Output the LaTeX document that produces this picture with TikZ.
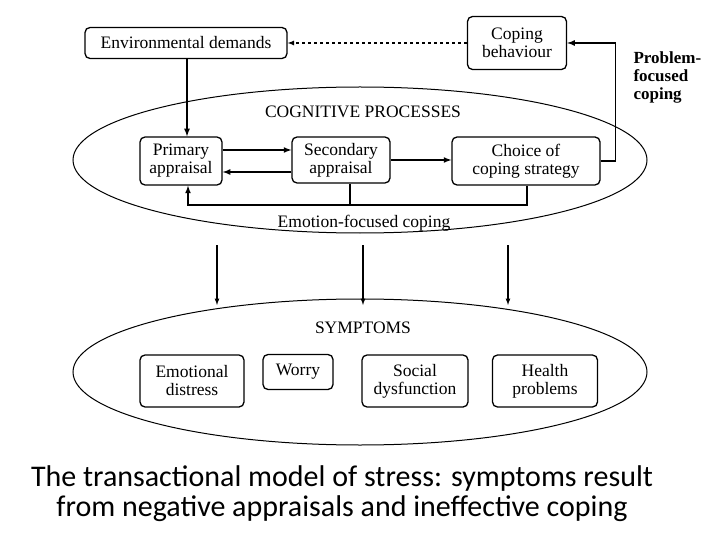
\documentclass[tikz,border=0pt]{standalone}
\usepackage{fontspec}
\setmainfont{Liberation Serif}
\newfontfamily\capfont{Carlito}
\begin{document}
\begin{tikzpicture}[x=1pt,y=-1pt,
 box/.style={draw,line width=1.3pt,rounded corners=5pt,align=center,font=\fontsize{17.5}{18}\selectfont,inner sep=0pt},
 arr/.style={line width=1.6pt,-latex},
 lbl/.style={font=\bfseries\fontsize{17}{18}\selectfont,align=left}]
\useasboundingbox (0,0) rectangle (720,540);
\node[box,minimum width=202,minimum height=31] (env) at (186,43) {Environmental demands};
\node[box,minimum width=99,minimum height=53] (cop) at (517,43) {Coping\\behaviour};
\node[lbl,anchor=north west] (pfc) at (630,48) {Problem-\\focused\\coping};
\draw[line width=1pt] (360,160) ellipse [x radius=287, y radius=73];
\node[font=\fontsize{17.5}{18}\selectfont] (cp) at (363,112) {COGNITIVE PROCESSES};
\node[box,minimum width=82,minimum height=48] (pri) at (181,161) {Primary\\appraisal};
\node[box,minimum width=98,minimum height=46] (sec) at (341,160) {Secondary\\appraisal};
\node[box,minimum width=148,minimum height=48] (cho) at (526,161) {Choice of\\coping strategy};
\draw[arr,dashed,line width=1.2pt] (cop.west) -- (env.east);
\draw[arr] (cho.east) -- ++(15,0) coordinate (c1) |- (cop.east);
\draw[arr] (env.south -| 187,0) -- (pri.north -| 187,0);
\draw[arr] (pri.east |- 0,150) -- (sec.west |- 0,150);
\draw[arr] (sec.west |- 0,172) -- (pri.east |- 0,172);
\draw[arr] (sec.east |- 0,160) -- (cho.west |- 0,160);
\coordinate (b1) at (350,205);
\draw[arr] (cho.south -| 527,0) |- (b1) -| (pri.south -| 188,0);
\draw[line width=1.6pt] (sec.south -| 350,0) -- (b1);
\node[font=\fontsize{17.5}{18}\selectfont] (efc) at (364,223) {Emotion-focused coping};
\coordinate (d1) at (217,245); \coordinate (d2) at (363,245); \coordinate (d3) at (508,245);
\draw[line width=1.2pt,-latex] (d1) -- ++(0,60);
\draw[line width=1.2pt,-latex] (d2) -- ++(0,60);
\draw[line width=1.2pt,-latex] (d3) -- ++(0,60);
\draw[line width=1pt] (360,372) ellipse [x radius=287, y radius=73];
\node[font=\fontsize{17.5}{18}\selectfont] (sy) at (363,328) {SYMPTOMS};
\node[box,minimum width=104,minimum height=52] (ed) at (192,381) {Emotional\\distress};
\node[box,minimum width=70,minimum height=35] (wo) at (298,372) {Worry};
\node[box,minimum width=106,minimum height=52] (sd) at (415,381) {Social\\dysfunction};
\node[box,minimum width=105,minimum height=52] (hp) at (545,381) {Health\\problems};
\node[font=\capfont\fontsize{30}{30}\selectfont,align=center] (cap) at (342,494) {The transactional model of stress: symptoms result\\from negative appraisals and ineffective coping};
\end{tikzpicture}
\end{document}
